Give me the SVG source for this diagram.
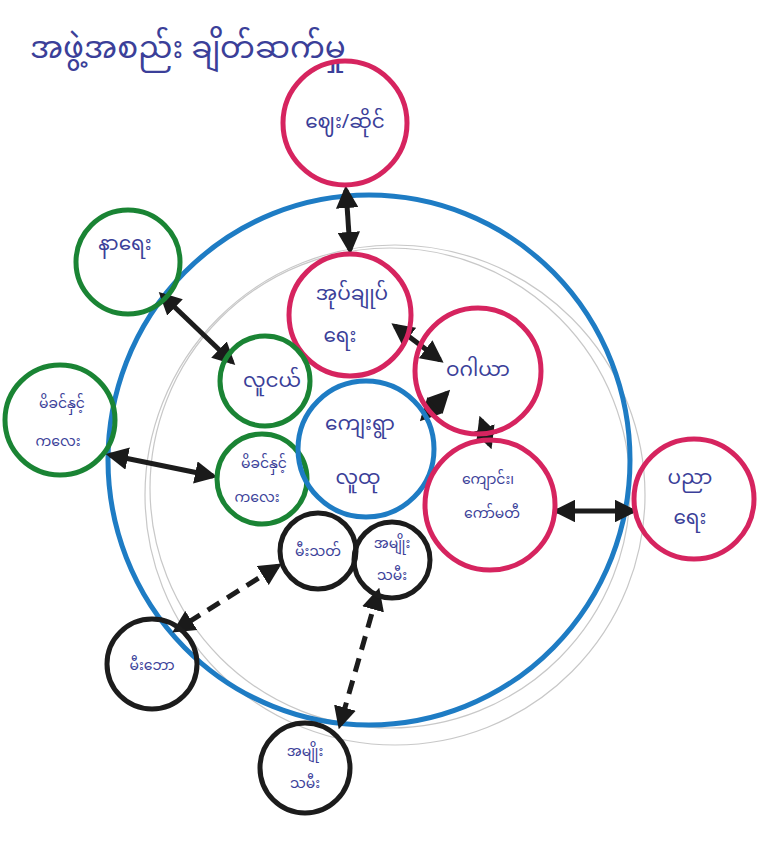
<svg xmlns="http://www.w3.org/2000/svg" width="763" height="853" viewBox="0 0 763 853">
<defs>
<marker id="ah" viewBox="0 0 10 10" refX="8" refY="5" markerWidth="4.5" markerHeight="4.5" orient="auto-start-reverse"><path d="M0,0 L10,5 L0,10 Z" fill="#1a1a1a"/></marker>
<style>
.pink{fill:none;stroke:#d6245f;stroke-width:5}
.green{fill:none;stroke:#1a8434;stroke-width:5}
.blue{fill:none;stroke:#1e7cc4;stroke-width:5}
.black{fill:none;stroke:#1c1c1c;stroke-width:5}
.gray{fill:none;stroke:#c8c8c8;stroke-width:1.2}
.t{font-family:"Noto Sans Myanmar","Padauk","Myanmar Text","Noto Sans",sans-serif;fill:#3b3f99;font-size:20px;text-anchor:middle}
.ts{font-size:14px}
.arr{fill:none;stroke:#1c1c1c;stroke-width:5;marker-start:url(#ah);marker-end:url(#ah)}
.dash{stroke-dasharray:14 9}
</style>
</defs>
<rect width="763" height="853" fill="#ffffff"/>
<text class="t" x="30" y="58" style="font-size:31px;text-anchor:start">အဖွဲ့အစည်း ချိတ်ဆက်မှု</text>
<g id="background-rings">
<circle class="gray" cx="395" cy="495" r="250"/>
<circle class="gray" cx="390" cy="488" r="240"/>
<ellipse class="blue" cx="369" cy="460" rx="261" ry="265"/>
</g>
<g id="connectors">
<line class="arr" x1="346" y1="190" x2="350" y2="250"/>
<line class="arr" x1="162" y1="295" x2="232" y2="362"/>
<line class="arr" x1="110" y1="455" x2="213" y2="476"/>
<line class="arr" x1="395" y1="326" x2="440" y2="360"/>
<line class="arr" x1="423" y1="418" x2="447" y2="393"/>
<line class="arr" x1="481" y1="420" x2="490" y2="445"/>
<line class="arr" x1="557" y1="511" x2="633" y2="511"/>
<line class="arr dash" x1="278" y1="566" x2="176" y2="630"/>
<line class="arr dash" x1="378" y1="592" x2="340" y2="725"/>
</g>
<g id="n-market"><circle class="pink" cx="345" cy="123" r="62"/><text class="t" x="345" y="128">ဈေး/ဆိုင်</text></g>
<g id="n-funeral"><circle class="green" cx="128" cy="262" r="52"/><text class="t" x="125" y="250">နာရေး</text></g>
<g id="n-admin"><circle class="pink" cx="350" cy="315" r="61"/><text class="t" x="352" y="300">အုပ်ချုပ်</text><text class="t" x="340" y="342">ရေး</text></g>
<g id="n-waga"><circle class="pink" cx="478" cy="371" r="63"/><text class="t" x="478" y="376">ဝဂါယာ</text></g>
<g id="n-youth"><circle class="green" cx="265" cy="381" r="45"/><text class="t" x="272" y="387">လူငယ်</text></g>
<g id="n-mother-out"><circle class="green" cx="60" cy="420" r="55"/><text class="t ts" x="62" y="408">မိခင်နှင့်</text><text class="t ts" x="58" y="446">ကလေး</text></g>
<g id="n-mother-in"><circle class="green" cx="262" cy="479" r="45"/><text class="t ts" x="264" y="468">မိခင်နှင့်</text><text class="t ts" x="257" y="502">ကလေး</text></g>
<g id="n-village"><circle class="blue" cx="366" cy="449" r="68"/><text class="t" x="360" y="430">ကျေးရွာ</text><text class="t" x="358" y="484">လူထု</text></g>
<g id="n-school"><circle class="pink" cx="490" cy="505" r="65"/><text class="t ts" x="488" y="484">ကျောင်း၊</text><text class="t ts" x="492" y="518">ကော်မတီ</text></g>
<g id="n-education"><circle class="pink" cx="694" cy="499" r="60"/><text class="t" x="690" y="484">ပညာ</text><text class="t" x="690" y="524">ရေး</text></g>
<g id="n-fire-in"><circle class="black" cx="318" cy="551" r="38"/><text class="t ts" x="318" y="556">မီးသတ်</text></g>
<g id="n-women-in"><circle class="black" cx="392" cy="560" r="38"/><text class="t ts" x="392" y="548">အမျိုး</text><text class="t ts" x="392" y="580">သမီး</text></g>
<g id="n-fire-out"><circle class="black" cx="152" cy="664" r="45"/><text class="t ts" x="152" y="670">မီးဘော</text></g>
<g id="n-women-out"><circle class="black" cx="305" cy="768" r="45"/><text class="t ts" x="305" y="756">အမျိုး</text><text class="t ts" x="305" y="788">သမီး</text></g>
</svg>
